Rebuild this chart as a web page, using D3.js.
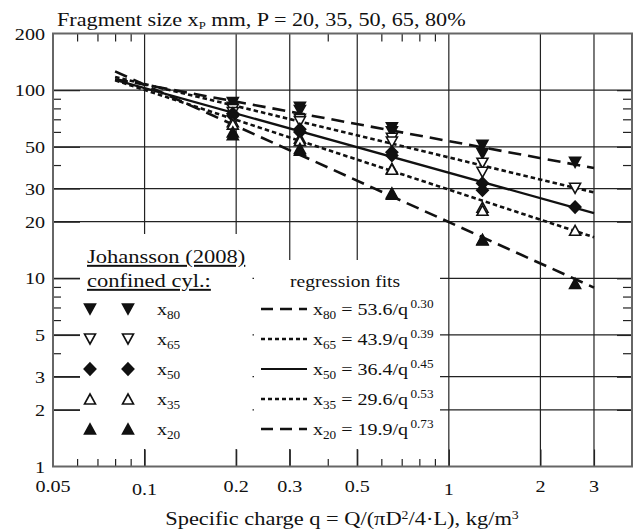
<!DOCTYPE html>
<html>
<head>
<meta charset="utf-8">
<style>
  html, body { margin:0; padding:0; background:#fff; }
  svg { display:block; font-family:"Liberation Serif", "Times New Roman", serif; }
  text { fill:#111; }
</style>
</head>
<body>
<svg id="chart" width="636" height="532"></svg>
<script src="https://d3js.org/d3.v7.min.js"></script>
<script>
const qData = [0.195, 0.195, 0.324, 0.324, 0.65, 0.65, 1.29, 1.29, 2.6];
const x80 = [86, 81, 81, 78, 63, 60, 51, 46, 41.4];
const x65 = [79, 76, 70, 68, 55.5, 53, 40.9, 36.6, 30.1];
const x50 = [75, 73, 62, 60, 46.8, 45, 32, 29.4, 23.9];
const x35 = [68, 66, 55.5, 54, 38.4, 38, 23.9, 23, 18];
const x20 = [60, 58, 49, 48, 28.4, 28, 16.1, 16, 9.4];

// regression fits x = a / q^b
const fitName = ["80", "65", "50", "35", "20"];
const fitA = [53.6, 43.9, 36.4, 29.6, 19.9];
const fitB = [0.30, 0.39, 0.45, 0.53, 0.73];
const fitRange = [0.08, 3];

// axes
const qTicks = [0.05, 0.1, 0.2, 0.3, 0.5, 1, 2, 3];
const qMinor = [0.06, 0.07, 0.08, 0.09, 0.4, 0.6, 0.7, 0.8, 0.9];
const yTicks = [1, 2, 3, 5, 10, 20, 30, 50, 100, 200];
const yMinor = [4, 6, 7, 8, 9, 40, 60, 70, 80, 90];

const SX = 1.15; // the lettering in the picture is a bit wide
const svg = d3.select("#chart");
const L = 53, R = 632, T = 33.5, B = 466.5;
const x = d3.scaleLog().domain([0.05, 4]).range([L, R]);
const y = d3.scaleLog().domain([1, 200]).range([B, T]);

function txt(g, px, py, anchor, size) {
  return g.append("text")
    .attr("transform", `translate(${px},${py}) scale(${SX},1)`)
    .attr("text-anchor", anchor)
    .style("font-size", size + "px");
}

// grid
const grid = svg.append("g").attr("stroke", "#222").attr("stroke-width", 1.2);
grid.selectAll(".gv").data(qTicks.slice(1)).join("line")
  .attr("x1", d => x(d)).attr("x2", d => x(d)).attr("y1", T).attr("y2", B);
grid.selectAll(".gh").data(yTicks.slice(1, -1)).join("line")
  .attr("y1", d => y(d)).attr("y2", d => y(d)).attr("x1", L).attr("x2", R);

// legend backgrounds hide part of the grid
svg.append("rect").attr("x", 80).attr("y", 234).attr("width", 172.5).attr("height", 215).attr("fill", "#fff");
svg.append("rect").attr("x", 254).attr("y", 260).attr("width", 186).attr("height", 189).attr("fill", "#fff");

// ticks
const tk = svg.append("g").attr("stroke", "#222").attr("stroke-width", 1.2);
const tickG = (axis, tr) => svg.append("g").attr("transform", tr).call(axis)
  .call(g => g.select(".domain").remove())
  .call(g => g.selectAll("line").attr("stroke", "#222").attr("stroke-width", 1.2));
tickG(d3.axisBottom(x).tickValues(qMinor).tickSize(-7.5).tickFormat(""), `translate(0,${B})`);
tickG(d3.axisBottom(x).tickValues(qTicks.slice(1)).tickSize(-17).tickFormat(""), `translate(0,${B})`);
tickG(d3.axisTop(x).tickValues(qMinor).tickSize(-8).tickFormat(""), `translate(0,${T})`);
tickG(d3.axisLeft(y).tickValues(yMinor).tickSize(-8).tickFormat(""), `translate(${L},0)`);
tickG(d3.axisLeft(y).tickValues(yTicks.slice(1, -1)).tickSize(-27).tickFormat(""), `translate(${L},0)`);
tickG(d3.axisRight(y).tickValues(yMinor).tickSize(-9).tickFormat(""), `translate(${R},0)`);
tickG(d3.axisRight(y).tickValues(yTicks.slice(1, -1)).tickSize(-15).tickFormat(""), `translate(${R},0)`);

// frame
svg.append("rect").attr("x", L).attr("y", T).attr("width", R - L).attr("height", B - T)
  .attr("fill", "none").attr("stroke", "#666").attr("stroke-width", 2);

// tick labels
const lab = svg.append("g");
yTicks.forEach(v => txt(lab, 45, y(v), "end", 17.5).attr("dy", "0.35em").text(v));
qTicks.forEach(v => {
  const dec = Math.abs(Math.log10(v) - Math.round(Math.log10(v))) < 1e-9;
  txt(lab, x(v), dec ? 495 : 492, "middle", 17.5).text(v);
});

// title
const tt = txt(svg, 57, 26, "start", 19.3);
tt.append("tspan").text("Fragment size x");
tt.append("tspan").attr("dy", 3).style("font-size", "11px").text("P");
tt.append("tspan").attr("dy", -3).text(" mm, P = 20, 35, 50, 65, 80%");

// x label
const xl = txt(svg, 342, 525, "middle", 19.5);
xl.append("tspan").text("Specific charge q = Q/(\u03c0D");
xl.append("tspan").attr("dy", -6).style("font-size", "12px").text("2");
xl.append("tspan").attr("dy", 6).text("/4\u00b7L), kg/m");
xl.append("tspan").attr("dy", -6).style("font-size", "12px").text("3");

// fit lines
const dashes = ["13,7", "4.5,3", null, "4.5,3", "13,7"];
const widths = [2.6, 2.6, 2.2, 2.6, 2.6];
const lineGen = d3.line().x(d => x(d[0])).y(d => y(d[1]));
fitA.forEach((a, i) => {
  const pts = fitRange.map(q => [q, a / Math.pow(q, fitB[i])]);
  svg.append("path").attr("d", lineGen(pts)).attr("fill", "none")
    .attr("stroke", "#111").attr("stroke-width", widths[i])
    .attr("stroke-dasharray", dashes[i]);
});

// markers
const tri = (w, h) => `M${-w},${-h / 2}L${w},${-h / 2}L0,${h / 2}Z`;
const shapes = [
  { d: tri(5.5, 10), fill: "#111" },
  { d: tri(5.5, 10), fill: "#fff" },
  { d: "M0,-6L5.8,0L0,6L-5.8,0Z", fill: "#111" },
  { d: tri(5.5, -10), fill: "#fff" },
  { d: tri(5.5, -10), fill: "#111" }
];
const drawMark = (g, s, px, py) => g.append("path").attr("d", s.d)
  .attr("transform", `translate(${px},${py})`)
  .attr("fill", s.fill).attr("stroke", "#111").attr("stroke-width", 1.6)
  .attr("stroke-linejoin", "miter");
const marks = svg.append("g");
[x80, x65, x50, x35, x20].forEach((vals, i) => {
  vals.forEach((v, j) => drawMark(marks, shapes[i], x(qData[j]), y(v)));
});

// legend
const lg = svg.append("g");
txt(lg, 87, 263, "start", 19.6).style("text-decoration", "underline").text("Johansson (2008)");
txt(lg, 87, 287, "start", 19.6).style("text-decoration", "underline").text("confined cyl.:");
txt(lg, 290, 287, "start", 17).text("regression fits");
fitName.forEach((n, i) => {
  const ry = 309 + i * 30;
  drawMark(lg, shapes[i], 90, ry);
  drawMark(lg, shapes[i], 128, ry);
  const t1 = txt(lg, 157, ry + 6, "start", 17.4);
  t1.append("tspan").text("x");
  t1.append("tspan").attr("dy", 4).style("font-size", "11.5px").text(n);

  lg.append("line").attr("x1", 261).attr("x2", 307).attr("y1", ry).attr("y2", ry)
    .attr("stroke", "#111").attr("stroke-width", widths[i])
    .attr("stroke-dasharray", dashes[i] ? (i % 2 ? "4,3" : "12,7") : null);
  const t2 = txt(lg, 313, ry + 6, "start", 17.4);
  t2.append("tspan").text("x");
  t2.append("tspan").attr("dy", 4).style("font-size", "11.5px").text(n);
  t2.append("tspan").attr("dy", -4).text(` = ${fitA[i].toFixed(1)}/q`);
  t2.append("tspan").attr("dy", -7).attr("dx", 2).style("font-size", "11.5px").text(fitB[i].toFixed(2));
});
</script>
</body>
</html>
